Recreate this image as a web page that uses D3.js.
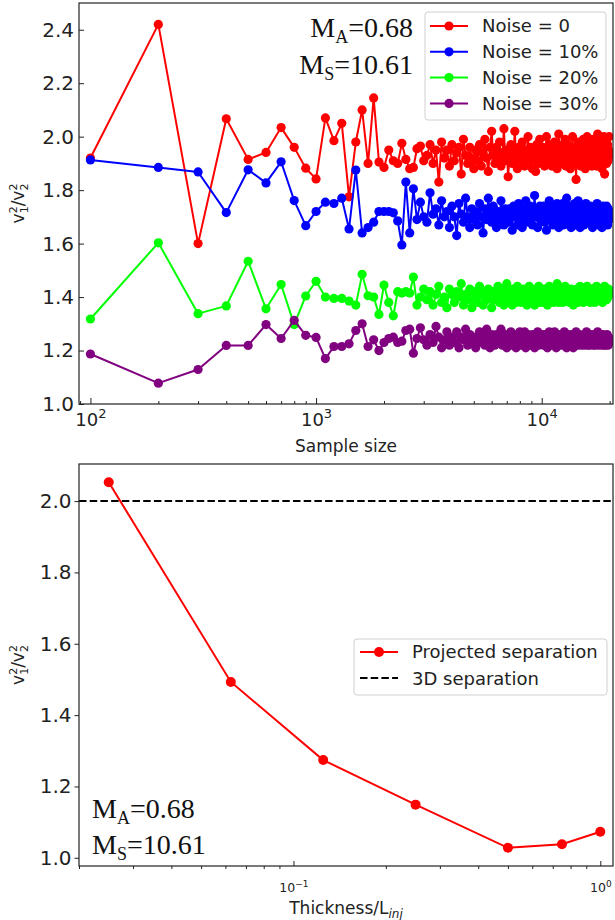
<!DOCTYPE html>
<html><head><meta charset="utf-8">
<script src="https://cdn.jsdelivr.net/npm/d3@7"></script>
<style>body{margin:0;background:#fff} svg{display:block}</style>
</head><body>
<svg id="c" width="615" height="920"></svg>
<script>
// ---------- Top chart data ----------
const sampleSizes = [
100,200,300,400,500,600,700,800,900,1000,
1100,1200,1300,1400,1500,1600,1700,1800,1900,2000,
2100,2200,2300,2400,2500,2600,2700,2800,2900,3000,
3100,3200,3300,3400,3500,3600,3700,3800,3900,4000,
4100,4200,4300,4400,4500,4600,4700,4800,4900,5000,
5100,5200,5300,5400,5500,5600,5700,5800,5900,6000,
6100,6200,6300,6400,6500,6600,6700,6800,6900,7000,
7100,7200,7300,7400,7500,7600,7700,7800,7900,8000,
8100,8200,8300,8400,8500,8600,8700,8800,8900,9000,
9100,9200,9300,9400,9500,9600,9700,9800,9900,10000,
10100,10200,10300,10400,10500,10600,10700,10800,10900,11000,
11100,11200,11300,11400,11500,11600,11700,11800,11900,12000,
12100,12200,12300,12400,12500,12600,12700,12800,12900,13000,
13100,13200,13300,13400,13500,13600,13700,13800,13900,14000,
14100,14200,14300,14400,14500,14600,14700,14800,14900,15000,
15100,15200,15300,15400,15500,15600,15700,15800,15900,16000,
16100,16200,16300,16400,16500,16600,16700,16800,16900,17000,
17100,17200,17300,17400,17500,17600,17700,17800,17900,18000,
18100,18200,18300,18400,18500,18600,18700,18800,18900,19000,
19100,19200,19300,19400,19500,19600,19700,19800,19900,20000];

const noise0 = [
1.92,2.42,1.60,2.067,1.915,1.941,2.034,1.960,1.882,1.842,
2.07,1.985,2.05,1.775,1.98,2.10,1.90,2.145,1.905,1.885,
1.95,1.91,1.90,1.975,1.915,1.88,1.885,1.955,1.965,1.91,
1.93,1.97,1.90,1.95,1.83,1.98,1.92,1.95,1.89,1.97,
1.91,1.94,1.96,1.86,1.99,1.93,1.90,1.96,1.92,1.88,
1.95,1.91,1.97,1.89,1.94,1.99,1.92,1.87,1.96,2.02,
1.93,1.90,1.96,1.92,1.98,1.89,1.94,2.03,1.91,1.95,
1.85,1.93,1.97,1.90,1.94,2.02,1.92,1.88,1.96,1.93,
1.91,1.98,1.94,1.89,1.95,1.92,2.00,1.90,1.96,1.93,
1.88,1.95,1.92,1.87,1.97,1.93,1.90,1.99,1.94,1.91,
1.96,1.92,1.89,1.95,2.00,1.93,1.90,1.97,1.92,1.94,
1.89,1.96,1.93,1.98,1.91,1.94,1.88,1.95,2.01,1.92,
1.95,1.90,1.93,1.97,1.91,1.94,1.99,1.89,1.95,1.92,
1.97,1.91,1.94,1.88,1.96,1.93,2.00,1.90,1.95,1.92,
1.94,1.84,1.96,1.92,1.98,1.90,1.95,1.93,1.89,1.97,
1.92,1.95,1.99,1.91,1.94,1.88,1.96,1.93,2.00,1.92,
1.95,1.90,1.93,1.97,1.91,1.96,1.89,1.94,1.99,1.92,
1.94,1.91,1.97,1.93,1.89,1.96,2.01,1.92,1.95,1.90,
1.93,1.98,1.91,1.95,1.88,1.94,1.97,1.92,2.00,1.86,
1.95,1.92,1.98,1.90,1.94,1.97,1.91,1.95,2.00,1.93];

const noise10 = [
1.913,1.885,1.868,1.716,1.876,1.827,1.906,1.761,1.667,1.720,
1.755,1.75,1.77,1.655,1.875,1.64,1.66,1.68,1.72,1.72,
1.72,1.715,1.685,1.595,1.83,1.64,1.805,1.69,1.755,1.70,
1.68,1.79,1.71,1.73,1.67,1.76,1.70,1.72,1.66,1.74,
1.70,1.63,1.75,1.71,1.68,1.77,1.70,1.66,1.73,1.69,
1.72,1.67,1.75,1.70,1.64,1.73,1.69,1.77,1.71,1.68,
1.74,1.70,1.66,1.72,1.69,1.76,1.71,1.67,1.73,1.70,
1.68,1.73,1.71,1.65,1.74,1.70,1.72,1.67,1.75,1.69,
1.71,1.66,1.73,1.70,1.76,1.68,1.72,1.69,1.74,1.70,
1.67,1.72,1.78,1.70,1.73,1.66,1.71,1.74,1.69,1.72,
1.70,1.74,1.68,1.71,1.65,1.73,1.70,1.76,1.69,1.72,
1.71,1.67,1.74,1.70,1.72,1.68,1.75,1.71,1.66,1.73,
1.69,1.72,1.70,1.75,1.67,1.71,1.73,1.69,1.77,1.70,
1.72,1.68,1.71,1.74,1.66,1.70,1.73,1.69,1.72,1.75,
1.70,1.67,1.73,1.71,1.76,1.69,1.72,1.66,1.71,1.74,
1.69,1.72,1.70,1.67,1.73,1.71,1.75,1.68,1.72,1.70,
1.73,1.69,1.71,1.74,1.68,1.72,1.70,1.66,1.73,1.71,
1.70,1.74,1.68,1.72,1.71,1.75,1.69,1.71,1.67,1.73,
1.71,1.69,1.73,1.70,1.66,1.72,1.74,1.69,1.71,1.73,
1.68,1.72,1.70,1.74,1.71,1.67,1.73,1.70,1.72,1.69];

const noise20 = [
1.318,1.603,1.338,1.367,1.534,1.356,1.447,1.297,1.404,1.459,
1.40,1.395,1.395,1.385,1.37,1.485,1.405,1.40,1.335,1.445,
1.38,1.33,1.42,1.415,1.42,1.415,1.475,1.37,1.40,1.43,
1.39,1.42,1.37,1.41,1.44,1.38,1.40,1.36,1.43,1.41,
1.38,1.42,1.40,1.45,1.37,1.41,1.39,1.43,1.36,1.42,
1.40,1.38,1.44,1.41,1.37,1.42,1.39,1.43,1.40,1.36,
1.42,1.39,1.41,1.44,1.38,1.40,1.43,1.37,1.41,1.45,
1.39,1.42,1.40,1.37,1.43,1.41,1.38,1.44,1.40,1.42,
1.38,1.41,1.43,1.39,1.42,1.37,1.40,1.44,1.41,1.39,
1.42,1.40,1.37,1.43,1.41,1.39,1.44,1.38,1.42,1.40,
1.41,1.38,1.43,1.40,1.42,1.37,1.41,1.44,1.39,1.42,
1.40,1.43,1.38,1.41,1.39,1.42,1.45,1.40,1.38,1.41,
1.43,1.39,1.41,1.38,1.42,1.40,1.44,1.39,1.41,1.43,
1.40,1.42,1.38,1.41,1.43,1.39,1.41,1.37,1.42,1.40,
1.41,1.39,1.43,1.40,1.38,1.42,1.40,1.44,1.41,1.39,
1.42,1.40,1.38,1.43,1.41,1.39,1.42,1.40,1.44,1.41,
1.39,1.42,1.41,1.38,1.43,1.40,1.42,1.39,1.41,1.43,
1.41,1.38,1.42,1.40,1.44,1.41,1.39,1.42,1.40,1.43,
1.40,1.42,1.39,1.41,1.43,1.38,1.42,1.40,1.41,1.44,
1.42,1.40,1.43,1.39,1.41,1.42,1.40,1.43,1.41,1.42];

const noise30 = [
1.187,1.078,1.129,1.219,1.219,1.297,1.245,1.313,1.257,1.249,
1.17,1.215,1.215,1.225,1.275,1.30,1.215,1.24,1.20,1.23,
1.245,1.25,1.23,1.235,1.275,1.28,1.19,1.245,1.285,1.24,
1.22,1.26,1.23,1.29,1.25,1.21,1.24,1.27,1.22,1.25,
1.23,1.27,1.21,1.25,1.24,1.28,1.22,1.26,1.23,1.25,
1.21,1.24,1.27,1.23,1.25,1.22,1.28,1.24,1.21,1.26,
1.24,1.22,1.26,1.23,1.25,1.28,1.22,1.24,1.26,1.21,
1.25,1.23,1.27,1.22,1.24,1.26,1.21,1.25,1.23,1.27,
1.22,1.25,1.24,1.27,1.21,1.24,1.26,1.23,1.25,1.22,
1.26,1.23,1.21,1.25,1.24,1.27,1.22,1.25,1.23,1.26,
1.24,1.22,1.26,1.23,1.25,1.21,1.24,1.27,1.23,1.25,
1.22,1.25,1.24,1.27,1.23,1.21,1.25,1.24,1.26,1.22,
1.25,1.23,1.26,1.22,1.24,1.27,1.23,1.25,1.21,1.24,
1.26,1.24,1.22,1.25,1.23,1.26,1.24,1.21,1.25,1.23,
1.24,1.27,1.23,1.25,1.22,1.24,1.26,1.23,1.25,1.22,
1.25,1.23,1.24,1.26,1.22,1.25,1.23,1.27,1.24,1.22,
1.23,1.25,1.22,1.24,1.26,1.23,1.25,1.24,1.22,1.26,
1.24,1.22,1.26,1.23,1.25,1.24,1.27,1.22,1.24,1.25,
1.23,1.26,1.24,1.22,1.25,1.23,1.26,1.24,1.22,1.25,
1.24,1.22,1.25,1.23,1.26,1.24,1.22,1.25,1.24,1.23];

const seriesNames = ["Noise = 0", "Noise = 10%", "Noise = 20%", "Noise = 30%"];
const seriesColors = ["#ff0000", "#0000ff", "#00ff00", "#800080"];
const topYTicks = [1.0, 1.2, 1.4, 1.6, 1.8, 2.0, 2.2, 2.4];
const topXTicks = [100, 1000, 10000];
const topXTickExp = ["2", "3", "4"];

// ---------- Bottom chart data ----------
const thickness = [0.025, 0.0625, 0.125, 0.25, 0.5, 0.75, 1.0];
const projected = [2.053, 1.493, 1.274, 1.149, 1.028, 1.038, 1.073];
const separation3D = 2.0;
const bottomYTicks = [1.0, 1.2, 1.4, 1.6, 1.8, 2.0];
const bottomXTicks = [0.1, 1];
const bottomXTickExp = ["\u22121", "0"];
const legend2Names = ["Projected separation", "3D separation"];

// ---------- Drawing ----------
const svg = d3.select("#c");
const FONT = "'DejaVu Sans', sans-serif";
const SERIF = "'Liberation Serif', 'Times New Roman', serif";

function minorLog(domain) {
  const out = [];
  const lo = Math.floor(Math.log10(domain[0])), hi = Math.ceil(Math.log10(domain[1]));
  for (let e = lo; e <= hi; e++) for (let m = 2; m <= 9; m++) {
    const v = m * Math.pow(10, e);
    if (v >= domain[0] && v <= domain[1]) out.push(v);
  }
  return out;
}

function ylabel(x, y) {
  const t = svg.append("text").attr("transform", `translate(${x},${y}) rotate(-90)`)
    .attr("text-anchor", "middle").attr("font-family", FONT).attr("font-size", 17).attr("fill", "#222");
  t.append("tspan").text("v");
  t.append("tspan").attr("font-size", 11).attr("dy", -7).text("2");
  t.append("tspan").attr("font-size", 11).attr("dx", -7).attr("dy", 11).text("1");
  t.append("tspan").attr("dy", -4).text("/v");
  t.append("tspan").attr("font-size", 11).attr("dy", -7).text("2");
  t.append("tspan").attr("font-size", 11).attr("dx", -7).attr("dy", 11).text("2");
}

// ===== TOP CHART =====
const T = {l: 79, r: 613, t: 3, b: 404};
const tx = d3.scaleLog().domain([89, 20700]).range([T.l, T.r]);
const ty = d3.scaleLinear().domain([1.0, 2.5]).range([T.b, T.t]);

svg.append("clipPath").attr("id", "clipT").append("rect")
  .attr("x", T.l).attr("y", T.t).attr("width", T.r - T.l).attr("height", T.b - T.t);

const gT = svg.append("g").attr("clip-path", "url(#clipT)");
[noise0, noise10, noise20, noise30].forEach((vals, i) => {
  const data = sampleSizes.map((s, j) => [s, vals[j]]);
  gT.append("path").datum(data).attr("fill", "none").attr("stroke", seriesColors[i])
    .attr("stroke-width", 2).attr("stroke-linejoin", "round")
    .attr("d", d3.line().x(d => tx(d[0])).y(d => ty(d[1])));
  gT.append("g").selectAll("circle").data(data).join("circle")
    .attr("cx", d => tx(d[0])).attr("cy", d => ty(d[1])).attr("r", 4.6).attr("fill", seriesColors[i]);
});

// axes
const yAxT = svg.append("g").attr("transform", `translate(${T.l},0)`)
  .call(d3.axisLeft(ty).tickValues(topYTicks).tickFormat(d3.format(".1f")).tickSizeInner(-5).tickSizeOuter(0).tickPadding(5));
yAxT.select(".domain").remove();
yAxT.selectAll("text").attr("font-family", FONT).attr("font-size", 20).attr("fill", "#222");
yAxT.selectAll("line").attr("stroke", "#222");

const xAxT = svg.append("g").attr("transform", `translate(0,${T.b})`)
  .call(d3.axisBottom(tx).tickValues(topXTicks).tickFormat(() => "").tickSizeInner(-6).tickSizeOuter(0).tickPadding(9));
xAxT.select(".domain").remove();
xAxT.selectAll("line").attr("stroke", "#222");
xAxT.selectAll(".tick text").each(function(d, i) {
  const t = d3.select(this).attr("font-family", FONT).attr("font-size", 18).attr("fill", "#222");
  t.append("tspan").text("10");
  t.append("tspan").attr("font-size", 13).attr("dy", -8).text(topXTickExp[i]);
});
const xMinT = svg.append("g").attr("transform", `translate(0,${T.b})`)
  .call(d3.axisBottom(tx).tickValues(minorLog(tx.domain())).tickFormat("").tickSizeInner(-3).tickSizeOuter(0));
xMinT.select(".domain").remove();
xMinT.selectAll("line").attr("stroke", "#222");

svg.append("rect").attr("x", T.l).attr("y", T.t).attr("width", T.r - T.l).attr("height", T.b - T.t)
  .attr("fill", "none").attr("stroke", "#222").attr("stroke-width", 1.2);

svg.append("text").attr("x", (T.l + T.r) / 2).attr("y", 452).attr("text-anchor", "middle")
  .attr("font-family", FONT).attr("font-size", 17).attr("fill", "#222").text("Sample size");
ylabel(24, (T.t + T.b) / 2);

// M_A / M_S annotation
function mach(x, y, anchor, sub, val) {
  const t = svg.append("text").attr("x", x).attr("y", y).attr("text-anchor", anchor)
    .attr("font-family", SERIF).attr("font-size", 28).attr("fill", "#111");
  t.append("tspan").text("M");
  t.append("tspan").attr("font-size", 18).attr("dy", 6).text(sub);
  t.append("tspan").attr("dy", -6).text("=" + val);
}
mach(413, 37, "end", "A", "0.68");
mach(413, 74, "end", "S", "10.61");

// legend (top)
const lg = svg.append("g");
lg.append("rect").attr("x", 425).attr("y", 12).attr("width", 181).attr("height", 108).attr("rx", 3)
  .attr("fill", "#fff").attr("fill-opacity", 0.8).attr("stroke", "#d0d0d0");
seriesNames.forEach((n, i) => {
  const y = 26 + i * 25.8;
  lg.append("line").attr("x1", 430).attr("x2", 468).attr("y1", y).attr("y2", y).attr("stroke", seriesColors[i]).attr("stroke-width", 2);
  lg.append("circle").attr("cx", 449).attr("cy", y).attr("r", 4.6).attr("fill", seriesColors[i]);
  lg.append("text").attr("x", 482).attr("y", y).attr("dy", "0.36em").attr("font-family", FONT).attr("font-size", 18).attr("fill", "#222").text(n);
});

// ===== BOTTOM CHART =====
const B = {l: 79, r: 613, t: 464, b: 866};
const bx = d3.scaleLog().domain([0.02, 1.1]).range([B.l, B.r]);
const by = d3.scaleLinear().domain([0.977, 2.104]).range([B.b, B.t]);

svg.append("line").attr("x1", B.l).attr("x2", B.r).attr("y1", by(separation3D)).attr("y2", by(separation3D))
  .attr("stroke", "#000").attr("stroke-width", 2).attr("stroke-dasharray", "7.5,3.2");

const pdata = thickness.map((t, i) => [t, projected[i]]);
svg.append("path").datum(pdata).attr("fill", "none").attr("stroke", "#ff0000").attr("stroke-width", 2)
  .attr("d", d3.line().x(d => bx(d[0])).y(d => by(d[1])));
svg.append("g").selectAll("circle").data(pdata).join("circle")
  .attr("cx", d => bx(d[0])).attr("cy", d => by(d[1])).attr("r", 5).attr("fill", "#ff0000");

const yAxB = svg.append("g").attr("transform", `translate(${B.l},0)`)
  .call(d3.axisLeft(by).tickValues(bottomYTicks).tickFormat(d3.format(".1f")).tickSizeInner(4.5).tickSizeOuter(0).tickPadding(3));
yAxB.select(".domain").remove();
yAxB.selectAll("text").attr("font-family", FONT).attr("font-size", 20).attr("fill", "#222");
yAxB.selectAll("line").attr("stroke", "#222");

const xAxB = svg.append("g").attr("transform", `translate(0,${B.b})`)
  .call(d3.axisBottom(bx).tickValues(bottomXTicks).tickFormat(() => "").tickSizeInner(-5).tickSizeOuter(0).tickPadding(17));
xAxB.select(".domain").remove();
xAxB.selectAll("line").attr("stroke", "#222");
xAxB.selectAll(".tick text").each(function(d, i) {
  const t = d3.select(this).attr("font-family", FONT).attr("font-size", 12.5).attr("fill", "#222");
  t.append("tspan").text("10");
  t.append("tspan").attr("font-size", 9).attr("dy", -5).text(bottomXTickExp[i]);
});
const xMinB = svg.append("g").attr("transform", `translate(0,${B.b})`)
  .call(d3.axisBottom(bx).tickValues(minorLog(bx.domain())).tickFormat("").tickSizeInner(3).tickSizeOuter(0));
xMinB.select(".domain").remove();
xMinB.selectAll("line").attr("stroke", "#222");

svg.append("rect").attr("x", B.l).attr("y", B.t).attr("width", B.r - B.l).attr("height", B.b - B.t)
  .attr("fill", "none").attr("stroke", "#222").attr("stroke-width", 1.2);

const xl = svg.append("text").attr("x", (B.l + B.r) / 2).attr("y", 914).attr("text-anchor", "middle")
  .attr("font-family", FONT).attr("font-size", 17).attr("fill", "#222");
xl.append("tspan").text("Thickness/L");
xl.append("tspan").attr("font-size", 12).attr("font-style", "italic").attr("dy", 4).text("inj");
ylabel(24, (B.t + B.b) / 2);

mach(92, 818, "start", "A", "0.68");
mach(92, 854, "start", "S", "10.61");

// legend (bottom)
const lg2 = svg.append("g");
lg2.append("rect").attr("x", 354).attr("y", 639).attr("width", 253).attr("height", 56).attr("rx", 3)
  .attr("fill", "#fff").attr("fill-opacity", 0.8).attr("stroke", "#d0d0d0");
lg2.append("line").attr("x1", 360).attr("x2", 398).attr("y1", 652).attr("y2", 652).attr("stroke", "#ff0000").attr("stroke-width", 2);
lg2.append("circle").attr("cx", 379).attr("cy", 652).attr("r", 5).attr("fill", "#ff0000");
lg2.append("line").attr("x1", 360).attr("x2", 398).attr("y1", 678).attr("y2", 678).attr("stroke", "#000").attr("stroke-width", 2).attr("stroke-dasharray", "7.5,3.2");
legend2Names.forEach((n, i) => {
  lg2.append("text").attr("x", 412).attr("y", 652 + i * 26.5).attr("dy", "0.36em")
    .attr("font-family", FONT).attr("font-size", 18).attr("fill", "#222").text(n);
});
</script>
</body></html>
